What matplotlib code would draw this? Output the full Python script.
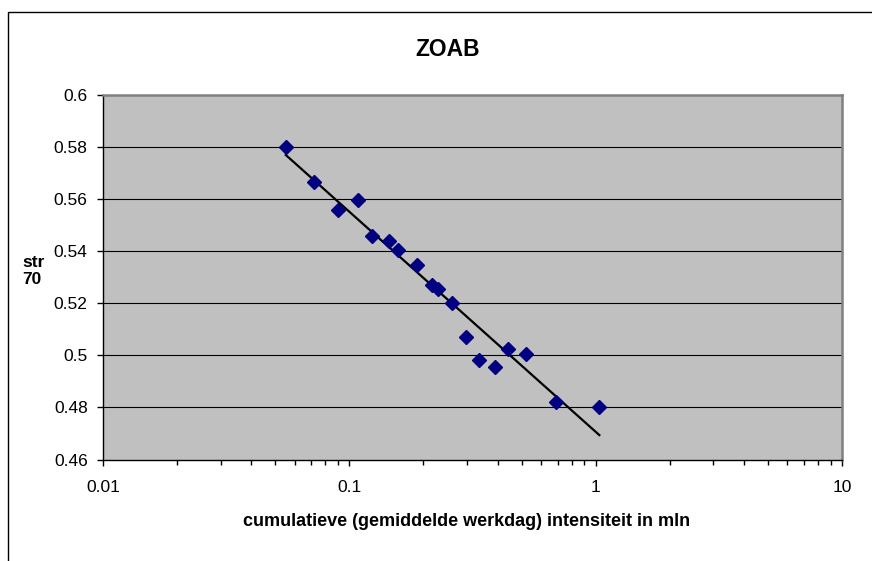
import numpy as np
import matplotlib
matplotlib.use('Agg')
import matplotlib.pyplot as plt
from matplotlib.patches import Rectangle

# Intensity (mln) and str70 values
intensiteit = [0.0552, 0.0719, 0.0902, 0.1088, 0.124, 0.145, 0.1577, 0.1878, 0.216,
               0.2298, 0.2604, 0.2977, 0.3353, 0.3905, 0.4397, 0.5217, 0.6887, 1.035]
str70 = [0.5802, 0.5664, 0.5559, 0.5597, 0.5459, 0.5440, 0.5405, 0.5347, 0.5269,
         0.5256, 0.5203, 0.5069, 0.4983, 0.4955, 0.5023, 0.5005, 0.4822, 0.4803]

y_ticks = [0.46, 0.48, 0.5, 0.52, 0.54, 0.56, 0.58, 0.6]
y_tick_labels = ['0.46', '0.48', '0.5', '0.52', '0.54', '0.56', '0.58', '0.6']
x_ticks = [0.01, 0.1, 1, 10]
x_tick_labels = ['0.01', '0.1', '1', '10']

plt.rcParams['font.family'] = ['Liberation Sans', 'DejaVu Sans']

fig = plt.figure(figsize=(8.72, 5.61), dpi=100)
ax = fig.add_axes([103 / 872, 1 - 459.5 / 561, 739 / 872, 364.5 / 561])

# Outer chart frame (Excel chart area border)
fig.patches.append(Rectangle((8 / 872, -0.1), 1.0, 1.1 - 12 / 561, transform=fig.transFigure,
                             fill=False, edgecolor='black', linewidth=1.0))

ax.set_facecolor('#C0C0C0')
ax.set_xscale('log')
ax.set_xlim(0.01, 10)
ax.set_ylim(0.46, 0.6)

# Horizontal gridlines
for yv in y_ticks[1:-1]:
    ax.axhline(yv, color='black', linewidth=0.8, zorder=1)

# Data points
ax.plot(intensiteit, str70, linestyle='none', marker='D', markersize=6.8,
        color='#000080', zorder=3)

# Logarithmic trendline (Excel style)
x = np.array(intensiteit)
coef = np.polyfit(np.log(x), np.array(str70), 1)
xs = np.geomspace(x.min(), x.max(), 100)
ax.plot(xs, coef[0] * np.log(xs) + coef[1], color='black', linewidth=1.6, zorder=2)

# Axes styling
ax.spines['top'].set_color('#808080')
ax.spines['right'].set_color('#808080')
ax.spines['top'].set_linewidth(1.8)
ax.spines['right'].set_linewidth(1.8)
ax.spines['left'].set_color('black')
ax.spines['bottom'].set_color('black')
ax.spines['left'].set_linewidth(1.0)
ax.spines['bottom'].set_linewidth(1.0)

ax.set_yticks(y_ticks)
ax.set_yticklabels(y_tick_labels)
ax.set_xticks(x_ticks)
ax.set_xticklabels(x_tick_labels)
ax.xaxis.set_minor_locator(matplotlib.ticker.LogLocator(base=10, subs=range(2, 10)))
ax.xaxis.set_minor_formatter(matplotlib.ticker.NullFormatter())
ax.tick_params(axis='y', direction='out', length=4, width=1, labelsize=12.5, pad=7)
ax.tick_params(axis='x', which='major', direction='out', length=4, width=1, labelsize=12.5, pad=11)
ax.tick_params(axis='x', which='minor', direction='out', length=3.5, width=1)

fig.text(448 / 872, 1 - 49.5 / 561, 'ZOAB', ha='center', va='center',
         fontsize=16.5, fontweight='bold')
fig.text(467 / 872, 1 - 522 / 561, 'cumulatieve (gemiddelde werkdag) intensiteit in mln',
         ha='center', va='center', fontsize=13, fontweight='bold')
fig.text(22 / 872, 1 - 271 / 561, 'str\n70', ha='left', va='center',
         fontsize=12.5, fontweight='bold', linespacing=1.15)

plt.savefig('out.png', dpi=100)
